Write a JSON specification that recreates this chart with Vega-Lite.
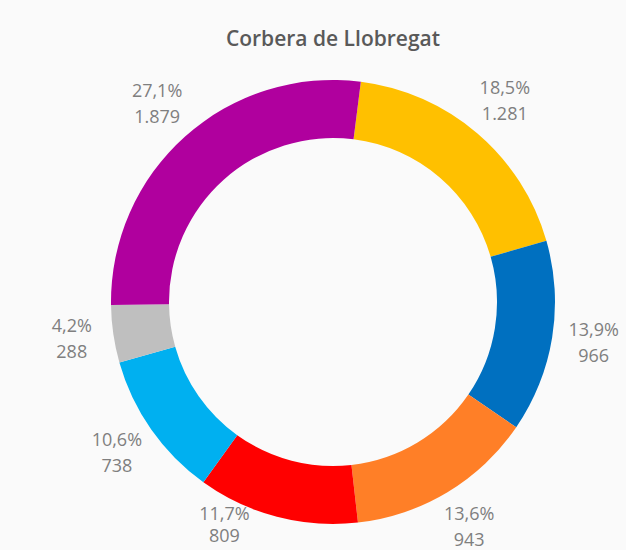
{
  "$schema": "https://vega.github.io/schema/vega-lite/v6.json",
  "width": 580,
  "height": 496,
  "padding": {"left": 43, "top": 54, "right": 3, "bottom": 0},
  "autosize": {"type": "none"},
  "background": "#fafafa",
  "config": {
    "view": {"stroke": null},
    "locale": {"number": {"decimal": ",", "thousands": ".", "grouping": [3], "currency": ["", " €"]}}
  },
  "title": {
    "text": "Corbera de Llobregat",
    "font": "Open Sans",
    "fontSize": 21,
    "fontWeight": 600,
    "color": "#595959",
    "anchor": "middle",
    "baseline": "middle",
    "offset": -7
  },
  "data": {
    "values": [
      {"partit": "ERC", "vots": 1281, "pct": 0.185, "n": 1},
      {"partit": "PP", "vots": 966, "pct": 0.139, "n": 2},
      {"partit": "Cs", "vots": 943, "pct": 0.136, "n": 3},
      {"partit": "PSC", "vots": 809, "pct": 0.117, "n": 4},
      {"partit": "CDC", "vots": 738, "pct": 0.106, "n": 5},
      {"partit": "Altres", "vots": 288, "pct": 0.042, "n": 6},
      {"partit": "ECP", "vots": 1879, "pct": 0.271, "n": 7}
    ]
  },
  "encoding": {
    "theta": {"field": "vots", "type": "quantitative", "stack": true, "scale": {"range": [0.1257, 6.4089]}},
    "order": {"field": "n", "type": "quantitative"},
    "color": {
      "field": "partit",
      "type": "nominal",
      "legend": null,
      "scale": {
        "domain": ["ERC", "PP", "Cs", "PSC", "CDC", "Altres", "ECP"],
        "range": ["#ffc000", "#0070c0", "#ff7f27", "#ff0000", "#00b0f0", "#bfbfbf", "#b0009e"]
      }
    }
  },
  "layer": [
    {"mark": {"type": "arc", "outerRadius": 222, "innerRadius": 164}},
    {
      "mark": {"type": "text", "font": "Open Sans", "fontSize": 18, "radius": 264, "dy": -13, "color": "#7f7f7f"},
      "encoding": {
        "text": {"condition": {"test": "datum.partit === 'PSC'", "value": ""}, "field": "pct", "type": "quantitative", "format": ".1%"},
        "color": {"value": "#7f7f7f"}
      }
    },
    {
      "mark": {"type": "text", "font": "Open Sans", "fontSize": 18, "radius": 264, "dy": 13, "color": "#7f7f7f"},
      "encoding": {
        "text": {"condition": {"test": "datum.partit === 'PSC'", "value": ""}, "field": "vots", "type": "quantitative", "format": ",d"},
        "color": {"value": "#7f7f7f"}
      }
    },
    {
      "mark": {"type": "text", "font": "Open Sans", "fontSize": 18, "radius": 232, "dx": -50, "dy": -11, "color": "#7f7f7f"},
      "encoding": {
        "text": {"condition": {"test": "datum.partit !== 'PSC'", "value": ""}, "field": "pct", "type": "quantitative", "format": ".1%"},
        "color": {"value": "#7f7f7f"}
      }
    },
    {
      "mark": {"type": "text", "font": "Open Sans", "fontSize": 18, "radius": 232, "dx": -50, "dy": 11, "color": "#7f7f7f"},
      "encoding": {
        "text": {"condition": {"test": "datum.partit !== 'PSC'", "value": ""}, "field": "vots", "type": "quantitative", "format": ",d"},
        "color": {"value": "#7f7f7f"}
      }
    }
  ]
}
